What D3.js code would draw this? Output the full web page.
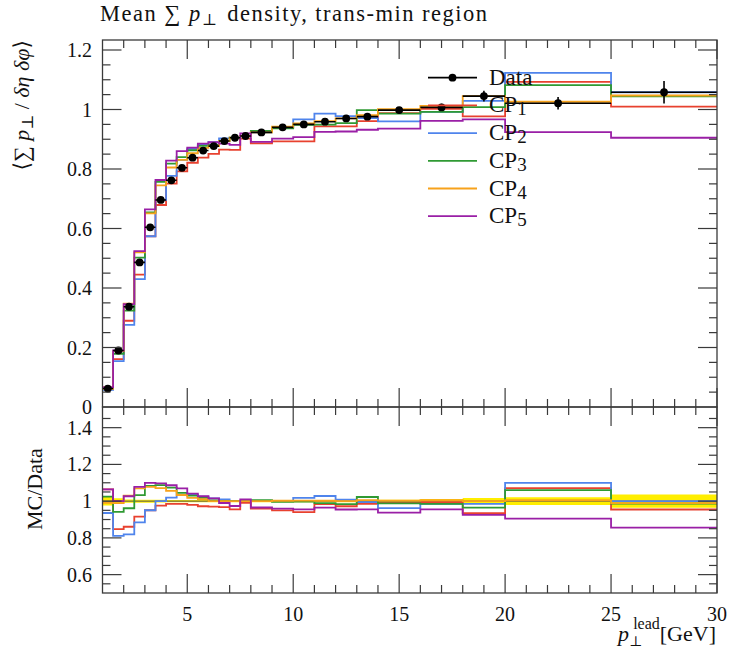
<!DOCTYPE html>
<html><head><meta charset="utf-8">
<script src="https://cdn.jsdelivr.net/npm/d3@7"></script>
<style>
body{margin:0;background:#fff}
text{font-family:"Liberation Serif","DejaVu Serif",serif;fill:#111}
</style>
</head><body>
<svg id="c" width="730" height="651"></svg>
<script>
// ---------------- data ----------------
const binEdges = [1,1.5,2,2.5,3,3.5,4,4.5,5,5.5,6,6.5,7,7.5,8,9,10,11,12,13,14,16,18,20,25,30];
const dataVals = [0.062,0.190,0.337,0.486,0.604,0.696,0.762,0.804,0.838,0.862,0.877,0.894,0.905,0.911,0.923,0.940,0.950,0.959,0.970,0.976,0.998,1.007,1.045,1.021,1.058];
const dataErr  = [0.0015,0.003,0.003,0.004,0.005,0.005,0.005,0.005,0.005,0.005,0.005,0.005,0.005,0.005,0.005,0.005,0.006,0.006,0.006,0.006,0.008,0.012,0.018,0.021,0.038];
const cp1 = [0.066,0.161,0.290,0.445,0.574,0.679,0.751,0.792,0.821,0.838,0.851,0.865,0.864,0.902,0.886,0.893,0.893,0.943,0.943,0.961,0.988,1.002,0.977,1.093,1.010];
const cp2 = [0.058,0.154,0.276,0.430,0.574,0.696,0.777,0.831,0.868,0.883,0.890,0.903,0.905,0.911,0.923,0.940,0.967,0.986,0.978,0.971,0.960,0.992,1.029,1.123,1.058];
const cp3 = [0.0635,0.179,0.324,0.502,0.654,0.757,0.818,0.840,0.863,0.878,0.881,0.894,0.905,0.911,0.928,0.937,0.948,0.949,0.954,0.998,0.986,0.992,1.008,1.082,1.044];
const cp4 = [0.0614,0.188,0.347,0.520,0.651,0.745,0.805,0.831,0.853,0.871,0.877,0.894,0.905,0.911,0.923,0.942,0.953,0.961,0.970,0.981,1.001,1.012,1.045,1.026,1.047];
const cp5 = [0.066,0.190,0.346,0.524,0.664,0.763,0.828,0.860,0.872,0.885,0.890,0.885,0.881,0.920,0.891,0.902,0.907,0.925,0.926,0.932,0.936,0.962,0.967,0.924,0.905];
const seriesNames = ["CP1","CP2","CP3","CP4","CP5"];
const seriesVals = [cp1,cp2,cp3,cp4,cp5];
const seriesColors = ["#e8412f","#4f84ec","#2f9a33","#f7a21b","#9a1fa6"];
const xTickMajor = [5,10,15,20,25,30];
const yTickMain = [0,0.2,0.4,0.6,0.8,1,1.2];
const yTickMainLabels = ["0","0.2","0.4","0.6","0.8","1","1.2"];
const yTickRatio = [0.6,0.8,1,1.2,1.4];
const yTickRatioLabels = ["0.6","0.8","1","1.2","1.4"];

// ---------------- layout ----------------
const svg = d3.select("#c");
const L = 102.5, R = 717;
const topY = 40, midY = 407, botY = 593;
const x = d3.scaleLinear().domain([1,30]).range([L,R]);
const y = d3.scaleLinear().domain([0,1.2]).range([midY,50]);
const yr = d3.scaleLinear().domain([0.5,1.5]).range([botY,409.3]);
const frameCol = "#3a3a3a";

svg.append("defs").call(d=>{
  d.append("clipPath").attr("id","cm").append("rect").attr("x",L).attr("y",topY).attr("width",R-L).attr("height",midY-topY);
  d.append("clipPath").attr("id","cr").append("rect").attr("x",L).attr("y",midY).attr("width",R-L).attr("height",botY-midY);
});

function stepPts(vals){
  const p = vals.map((v,i)=>[binEdges[i],v]);
  p.push([binEdges[vals.length],vals[vals.length-1]]);
  return p;
}

// ---------------- main panel ----------------
const gm = svg.append("g").attr("clip-path","url(#cm)");
const lineM = d3.line().x(d=>x(d[0])).y(d=>y(d[1])).curve(d3.curveStepAfter);
seriesVals.forEach((s,k)=>{
  gm.append("path").attr("d",lineM(stepPts(s))).attr("fill","none")
    .attr("stroke",seriesColors[k]).attr("stroke-width",1.8);
});
dataVals.forEach((v,i)=>{
  const xc = x((binEdges[i]+binEdges[i+1])/2);
  gm.append("line").attr("x1",x(binEdges[i])).attr("x2",x(binEdges[i+1])).attr("y1",y(v)).attr("y2",y(v))
    .attr("stroke","#000").attr("stroke-width",1.6);
  gm.append("line").attr("x1",xc).attr("x2",xc).attr("y1",y(v-dataErr[i])).attr("y2",y(v+dataErr[i]))
    .attr("stroke","#000").attr("stroke-width",1.6);
  gm.append("circle").attr("cx",xc).attr("cy",y(v)).attr("r",3.9).attr("fill","#000");
});

// ---------------- ratio panel ----------------
const gr = svg.append("g").attr("clip-path","url(#cr)");
const band = d3.area().x(d=>x(d[0])).y0(d=>yr(1-d[1])).y1(d=>yr(1+d[1])).curve(d3.curveStepAfter);
const rel = dataErr.map((e,i)=>e/dataVals[i]);
gr.append("path").attr("d",band(stepPts(rel))).attr("fill","#ffee00").attr("stroke","none");
gr.append("line").attr("x1",L).attr("x2",R).attr("y1",yr(1)).attr("y2",yr(1)).attr("stroke","#555").attr("stroke-width",1);
const lineR = d3.line().x(d=>x(d[0])).y(d=>yr(d[1])).curve(d3.curveStepAfter);
seriesVals.forEach((s,k)=>{
  const ratio = s.map((v,i)=>v/dataVals[i]);
  gr.append("path").attr("d",lineR(stepPts(ratio))).attr("fill","none")
    .attr("stroke",seriesColors[k]).attr("stroke-width",1.8);
});

// ---------------- frames & ticks ----------------
function frame(y0,y1){
  svg.append("rect").attr("x",L).attr("y",y0).attr("width",R-L).attr("height",y1-y0)
    .attr("fill","none").attr("stroke",frameCol).attr("stroke-width",1.3);
}
frame(topY,midY); frame(midY,botY);
const tk = svg.append("g").attr("stroke",frameCol).attr("stroke-width",1.2);
const minorX = d3.range(2,30).filter(v=>v%5!==0);
function xTicks(yTop,yBot){
  xTickMajor.forEach(v=>{
    tk.append("line").attr("x1",x(v)).attr("x2",x(v)).attr("y1",yTop).attr("y2",yTop+19);
    tk.append("line").attr("x1",x(v)).attr("x2",x(v)).attr("y1",yBot).attr("y2",yBot-19);
  });
  minorX.forEach(v=>{
    tk.append("line").attr("x1",x(v)).attr("x2",x(v)).attr("y1",yTop).attr("y2",yTop+8);
    tk.append("line").attr("x1",x(v)).attr("x2",x(v)).attr("y1",yBot).attr("y2",yBot-8);
  });
}
xTicks(topY,midY); xTicks(midY,botY);
function yTicks(scale,major,minor){
  major.forEach(v=>{
    tk.append("line").attr("x1",L).attr("x2",L+19).attr("y1",scale(v)).attr("y2",scale(v));
    tk.append("line").attr("x1",R).attr("x2",R-19).attr("y1",scale(v)).attr("y2",scale(v));
  });
  minor.forEach(v=>{
    tk.append("line").attr("x1",L).attr("x2",L+8).attr("y1",scale(v)).attr("y2",scale(v));
    tk.append("line").attr("x1",R).attr("x2",R-8).attr("y1",scale(v)).attr("y2",scale(v));
  });
}
yTicks(y, yTickMain.filter(v=>v>0), d3.range(1,24).map(i=>i*0.05).filter(v=>Math.abs(v*5-Math.round(v*5))>1e-6));
yTicks(yr, yTickRatio, d3.range(11,30).map(i=>i*0.05).filter(v=>Math.abs(v*5-Math.round(v*5))>1e-6));

// tick labels
const fsT = 20;
yTickMain.forEach((v,i)=>{
  svg.append("text").attr("x",92).attr("y",y(v)).attr("dy","0.35em").attr("text-anchor","end")
    .style("font-size",fsT+"px").text(yTickMainLabels[i]);
});
yTickRatio.forEach((v,i)=>{
  svg.append("text").attr("x",92).attr("y",yr(v)).attr("dy","0.35em").attr("text-anchor","end")
    .style("font-size",fsT+"px").text(yTickRatioLabels[i]);
});
xTickMajor.forEach(v=>{
  svg.append("text").attr("x",x(v)).attr("y",621).attr("text-anchor","middle")
    .style("font-size",fsT+"px").text(String(v));
});

// ---------------- titles ----------------
const t = svg.append("text").attr("x",100).attr("y",21).style("font-size","22.5px");
t.append("tspan").text("Mean ∑ ");
t.append("tspan").style("font-style","italic").text("p");
t.append("tspan").attr("dy",4).style("font-size","16px").text("⊥");
t.append("tspan").attr("dy",-4).attr("dx",2).text(" density, trans-min region");
const tw = t.node().getComputedTextLength();
t.style("letter-spacing",Math.max(0,(385-tw)/34).toFixed(2)+"px");

const yl = svg.append("text").attr("transform","translate(29,40) rotate(-90)").attr("text-anchor","end").style("font-size","22px");
yl.append("tspan").text("⟨∑ ");
yl.append("tspan").style("font-style","italic").text("p");
yl.append("tspan").attr("dy",4).style("font-size","16px").text("⊥");
yl.append("tspan").attr("dy",-4).text(" / ");
yl.append("tspan").style("font-style","italic").text("δη δφ");
yl.append("tspan").text("⟩");

svg.append("text").attr("transform","translate(42,530) rotate(-90)").attr("text-anchor","start")
  .style("font-size","22px").text("MC/Data");

const xl = svg.append("text").attr("x",716).attr("y",641).attr("text-anchor","end").style("font-size","22px");
xl.append("tspan").style("font-style","italic").text("p");
xl.append("tspan").attr("dy",5).style("font-size","14px").text("⊥");
xl.append("tspan").attr("dx",-9).attr("dy",-17).style("font-size","16px").text("lead");
xl.append("tspan").attr("dy",12).text("[GeV]");

// ---------------- legend ----------------
const lg = svg.append("g");
const lgY0 = 77.7, lgDy = 27.7;
lg.append("line").attr("x1",428).attr("x2",477).attr("y1",lgY0).attr("y2",lgY0).attr("stroke","#000").attr("stroke-width",1.8);
lg.append("circle").attr("cx",452.5).attr("cy",lgY0).attr("r",3.9).attr("fill","#000");
lg.append("text").attr("x",489).attr("y",lgY0+7).style("font-size","23px").text("Data");
seriesNames.forEach((n,k)=>{
  const yy = lgY0 + lgDy*(k+1);
  lg.append("line").attr("x1",428).attr("x2",477).attr("y1",yy).attr("y2",yy).attr("stroke",seriesColors[k]).attr("stroke-width",1.8);
  const tx = lg.append("text").attr("x",489).attr("y",yy+7).style("font-size","23px");
  tx.append("tspan").text(n.slice(0,2));
  tx.append("tspan").attr("dy",3).style("font-size","19px").text(n.slice(2));
});
</script>
</body></html>
